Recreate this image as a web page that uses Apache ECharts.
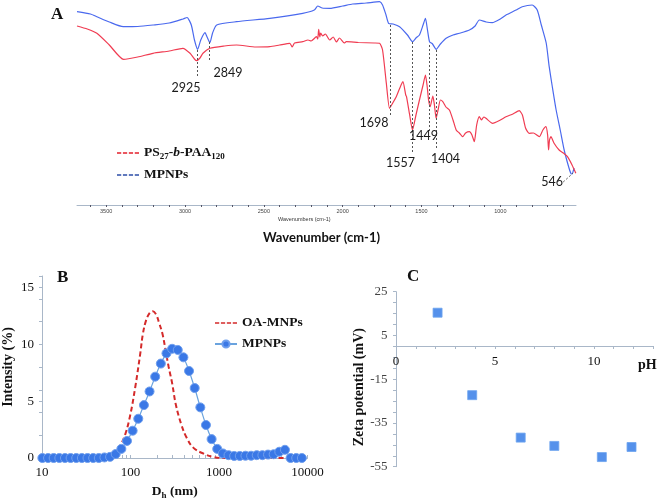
<!DOCTYPE html>
<html><head><meta charset="utf-8">
<script src="https://cdn.jsdelivr.net/npm/echarts@6/dist/echarts.min.js"></script>
<style>html,body{margin:0;padding:0;background:#fff}#c{width:661px;height:501px}</style>
</head><body><div id="c"></div>
<script>
// ---- Panel A: FTIR spectra, [wavenumber cm-1, relative transmittance (a.u.)]
const ftirPolymer = [[3685,179],[3620,176],[3559,171.7],[3480,160],[3390,145.7],[3300,148],[3203,151.7],[3100,154],[3013,156.7],[2968,151.7],[2940,146],[2926,144.3],[2905,147],[2886,151.7],[2842,156.7],[2750,159],[2673,160],[2550,158],[2462,158.3],[2400,160],[2335,161.7],[2320,158],[2305,162],[2253,163.3],[2220,165],[2200,164],[2166,168.3],[2158,166],[2152,175.7],[2145,168],[2140,172],[2127,169],[2110,171],[2082,165],[2060,168],[2040,163],[2020,167],[1990,162],[1977,163.3],[1900,162.5],[1800,162],[1766,161.7],[1747,155],[1723,121.7],[1703,96.7],[1690,100],[1660,108.3],[1640,116],[1618,123.3],[1600,110],[1595,108.3],[1575,90],[1557,75],[1535,90],[1513,105],[1490,120],[1475,130],[1465,120],[1455,105],[1445,98.3],[1428,109],[1418,100],[1407,86.7],[1395,95],[1380,105],[1365,103.3],[1345,98],[1323,95],[1300,85],[1280,75],[1260,72],[1239,68.3],[1220,72],[1196,73.3],[1180,70],[1165,63.3],[1150,80],[1133,88.3],[1120,85],[1105,88],[1091,86.7],[1049,81.7],[1000,85],[964,88.3],[920,91],[880,94.3],[860,90],[840,77],[817,71.7],[790,72],[753,68.3],[730,75],[711,78.3],[700,70],[694,55],[688,65],[679,68.3],[660,62],[627,55],[600,52],[574,48.3],[545,40],[521,31.7]];
const ftirMPNPs = [[3685,193.3],[3600,191],[3559,188.3],[3480,183],[3392,178.3],[3300,178.5],[3203,180],[3100,182],[3013,186],[2987,187.5],[2960,180],[2940,165],[2920,155.7],[2900,165],[2873,172.3],[2860,168],[2842,162.3],[2825,172],[2799,180],[2673,183.3],[2462,186.7],[2253,191.7],[2180,195],[2158,199],[2130,197],[2082,196.7],[2000,199],[1937,201],[1850,202],[1766,203.3],[1747,200],[1725,190],[1709,181.7],[1680,181],[1639,178.3],[1589,170],[1557,163.3],[1535,167],[1513,170],[1490,180],[1475,186.7],[1462,175],[1449,163.3],[1430,161],[1407,155.7],[1380,161],[1344,166.7],[1300,170],[1260,171.7],[1196,175],[1160,179],[1133,185],[1090,183],[1051,182.3],[1000,186],[964,190],[900,195],[861,198.3],[798,200],[766,195],[740,180],[709,162],[690,138.3],[670,118],[646,95],[620,75],[595,55],[570,40],[553,31.7],[546,31],[532,37]];
const peakLabels = ['2925','2849','1698','1557','1449','1404','546'];
const wavenumberTicks = [1000,1500,2000,2500,3000,3500];

// ---- Panel B: DLS size distribution
const dlsSizesMPNPs = [10.1,11.7,13.54,15.69,18.17,21.04,24.36,28.21,32.67,37.84,43.82,50.75,58.77,68.06,78.82,91.28,105.7,122.4,141.8,164.2,190.1,220.2,255,295.3,342,396.1,458.7,531.2,615.1,712.4,825,955.4,1106,1281,1484,1718,1990,2305,2669,3091,3580,4145,4801,5560,6439,7456,8635];
const dlsIntensityMPNPs = [0,0,0,0,0,0,0,0,0,0,0,0.05,0.1,0.35,0.8,1.5,2.4,3.45,4.65,5.85,7.15,8.3,9.2,9.6,9.5,8.85,7.65,6.15,4.45,2.9,1.66,0.8,0.4,0.25,0.18,0.18,0.2,0.2,0.25,0.25,0.3,0.33,0.55,0.72,0,0,0];
const dlsSizesOA = [10,20,40,55,60,67.3,76.7,87.4,99.5,113,129,138,150,165,179,195,210,230,250,270,295,326,375,430,515,670,870,1120,3000,8635];
const dlsIntensityOA = [0,0,0,0,0.05,0.38,1.09,2.1,3.8,6.2,9.2,10.9,12.1,12.75,12.9,12.6,11.9,10.9,9.4,8.0,6.6,4.66,2.95,1.8,0.89,0.38,0.09,0,0,0];
const sizeTicks = [10,100,1000,10000];

// ---- Panel C: zeta potential vs pH
const phValues = [2.1,3.85,6.3,8.0,10.4,11.9];
const zetaValues = [15.4,-22.3,-41.7,-45.5,-50.6,-46];
const phTicks = [0,5,10];
const zetaTicks = [-55,-35,-15,5,25];

const serif = 'Liberation Serif';
const axisGray = '#a9b7c8';
const range = (a,b,s)=>{const r=[];for(let v=a;v<=b+1e-9;v+=s)r.push(+v.toFixed(6));return r;};
const logTicks = [];
[10,100,1000].forEach(d=>{for(let k=1;k<10;k++)logTicks.push(d*k);}); logTicks.push(10000);
const plain = v => String(v);

const dashIcon = 'path://M0 0H5V2H0Z M7 0H12V2H7Z M14 0H19V2H14Z M21 0H26V2H21Z';
const richSerif = {
  t:{fontFamily:serif,fontWeight:'bold',fontSize:13.5,lineHeight:16,color:'#111'},
  i:{fontFamily:serif,fontWeight:'bold',fontStyle:'italic',fontSize:13.5,lineHeight:16,color:'#111'},
  s:{fontFamily:serif,fontWeight:'bold',fontSize:9,lineHeight:7,verticalAlign:'bottom',color:'#111'}
};

const peakCoords = [[2994,117],[2728,132],[1801,82],[1633,42],[1487,69],[1348,46],[671,23]];
const guideLines = [[2925,155,129],[2849,163,143],[1698,180,88],[1557,163,52],[1449,160,72],[1404,155,55]];

const chart = echarts.init(document.getElementById('c'), null, {renderer:'canvas'});
chart.setOption({
  animation:false,
  backgroundColor:'#fff',
  grid:[
    {left:77,right:85,top:0,bottom:296},
    {left:42,right:353.5,top:276,bottom:38.3},
    {left:396,right:7.7,top:291.7,bottom:34.3}
  ],
  xAxis:[
    {gridIndex:0,type:'value',inverse:true,min:520,max:3685,
     axisLine:{lineStyle:{color:axisGray,width:1}},
     axisTick:{customValues:range(600,3600,100),length:2,lineStyle:{color:'#556'}},
     axisLabel:{customValues:wavenumberTicks,formatter:plain,fontSize:5.5,color:'#444',margin:3,fontFamily:'Liberation Sans'},
     splitLine:{show:false}},
    {gridIndex:1,type:'log',logBase:10,min:10,max:10000,
     axisLine:{lineStyle:{color:axisGray}},
     axisTick:{customValues:logTicks,inside:true,length:3,lineStyle:{color:axisGray}},
     axisLabel:{customValues:sizeTicks,formatter:plain,fontFamily:serif,fontSize:13,color:'#111',margin:8},
     splitLine:{show:false},minorSplitLine:{show:false},
     name:'{t|D}{s|h}{t| (nm)}',nameLocation:'middle',nameGap:26,
     nameTextStyle:{rich:richSerif}},
    {gridIndex:2,type:'value',min:0,max:13,position:'bottom',offset:-120.7,
     axisLine:{onZero:false,lineStyle:{color:axisGray}},
     axisTick:{customValues:range(0,13,1),length:3,lineStyle:{color:axisGray}},
     axisLabel:{customValues:phTicks,formatter:plain,fontFamily:serif,fontSize:13,color:'#111',margin:9},
     splitLine:{show:false}}
  ],
  yAxis:[
    {gridIndex:0,type:'value',min:0,max:205,show:false},
    {gridIndex:1,type:'value',min:0,max:16,
     axisLine:{show:true,lineStyle:{color:axisGray}},
     axisTick:{show:true,customValues:[0,2,4,5,6,8,10,12,14,15,16],length:3,lineStyle:{color:axisGray}},
     axisLabel:{customValues:[0,5,10,15],formatter:plain,fontFamily:serif,fontSize:13,color:'#111',margin:8},
     splitLine:{show:false},
     name:'Intensity (%)',nameLocation:'middle',nameGap:27,
     nameTextStyle:{fontFamily:serif,fontWeight:'bold',fontSize:14,color:'#111'}},
    {gridIndex:2,type:'value',min:-55,max:25,
     axisLine:{show:true,onZero:false,lineStyle:{color:axisGray}},
     axisTick:{show:true,customValues:range(-55,25,5),length:3,lineStyle:{color:axisGray}},
     axisLabel:{show:false},
     splitLine:{show:false},
     name:'Zeta potential (mV)',nameLocation:'middle',nameGap:30,nameMoveOverlap:false,
     nameTextStyle:{fontFamily:serif,fontWeight:'bold',fontSize:14,color:'#111',padding:[0,0,0,-16]}}
  ],
  legend:[
    {orient:'vertical',left:112,top:141,itemWidth:22,itemHeight:2,itemGap:7,
     data:[{name:'PS27-b-PAA120',icon:dashIcon,itemStyle:{color:'#e3202c'}},
           {name:'MPNPs (FTIR)',icon:dashIcon,itemStyle:{color:'#2c4ea8'}}],
     formatter:n=>n==='PS27-b-PAA120'?'{t|PS}{s|27}{t|-}{i|b}{t|-PAA}{s|120}':'{t|MPNPs}',
     textStyle:{rich:richSerif}},
    {orient:'vertical',left:209,top:311,itemWidth:22,itemHeight:9,itemGap:7,
     data:[{name:'OA-MNPs',icon:dashIcon,itemHeight:2,itemStyle:{color:'#d42a2a'}},
           {name:'MPNPs (DLS)'}],
     formatter:n=>n==='OA-MNPs'?'{t|OA-MNPs}':'{t|MPNPs}',
     textStyle:{rich:richSerif}}
  ],
  series:[
    {name:'MPNPs (FTIR)',type:'line',xAxisIndex:0,yAxisIndex:0,data:ftirMPNPs,
     showSymbol:false,smooth:0.2,lineStyle:{color:'#4a69ee',width:1.2},itemStyle:{color:'#4a69ee'}},
    {name:'PS27-b-PAA120',type:'line',xAxisIndex:0,yAxisIndex:0,data:ftirPolymer,
     showSymbol:false,smooth:0.2,lineStyle:{color:'#f03c52',width:1.2},itemStyle:{color:'#f03c52'},
     markLine:{silent:true,symbol:['none','none'],label:{show:false},
       lineStyle:{color:'#555',type:[2,2],width:1},
       data:guideLines.map(g=>[{coord:[g[0],g[1]]},{coord:[g[0],g[2]]}])
         .concat([[{coord:[601,23]},{coord:[538,32]}]])},
     markPoint:{silent:true,symbol:'circle',symbolSize:0,
       label:{show:true,position:'inside',formatter:'{b}',fontFamily:'Lato',fontSize:12.5,color:'#1a1a1a'},
       data:peakLabels.map((p,i)=>({name:p,coord:peakCoords[i]}))}},
    {name:'OA-MNPs',type:'line',xAxisIndex:1,yAxisIndex:1,
     data:dlsSizesOA.map((d,i)=>[d,dlsIntensityOA[i]]),
     showSymbol:false,smooth:0.4,lineStyle:{color:'#d42a2a',width:2,type:[5,3]},itemStyle:{color:'#d42a2a'},z:3},
    {name:'MPNPs (DLS)',type:'line',xAxisIndex:1,yAxisIndex:1,
     data:dlsSizesMPNPs.map((d,i)=>[d,dlsIntensityMPNPs[i]]),
     symbol:'circle',symbolSize:9,smooth:0.3,
     lineStyle:{color:'#6aa3de',width:1.2},
     itemStyle:{color:'#3a78e6',borderColor:'#6f9fee',borderWidth:1},z:4},
    {name:'Zeta',type:'scatter',xAxisIndex:2,yAxisIndex:2,
     data:phValues.map((p,i)=>[p,zetaValues[i]]),
     symbol:'rect',symbolSize:9,
     itemStyle:{color:'#2a76e6',borderColor:'#6ea5ef',borderWidth:1}},
    {name:'Zeta axis labels',type:'scatter',xAxisIndex:2,yAxisIndex:2,silent:true,
     zlevel:3,z:100,
     data:zetaTicks.map(v=>[0,v]),symbol:'circle',symbolSize:1,clip:false,
     itemStyle:{color:'rgba(0,0,0,0)'},
     labelLayout:{hideOverlap:false},
     label:{show:true,position:'left',distance:8,formatter:p=>String(p.value[1]),
       fontFamily:serif,fontSize:13,color:'#111'}}
  ],
  graphic:[
    {type:'text',left:51,top:6,style:{text:'A',font:'bold 17px "Liberation Serif"',fill:'#111'}},
    {type:'text',left:57,top:269,style:{text:'B',font:'bold 17px "Liberation Serif"',fill:'#111'}},
    {type:'text',left:407,top:268,style:{text:'C',font:'bold 17px "Liberation Serif"',fill:'#111'}},
    {type:'text',left:638,top:358,style:{text:'pH',font:'bold 14px "Liberation Serif"',fill:'#111'}},
    {type:'text',left:263,top:231,style:{text:'Wavenumber (cm-1)',font:'bold 13px Lato',fill:'#111'}},
    {type:'text',left:278,top:216,style:{text:'Wavenumbers (cm-1)',font:'5.5px "Liberation Sans"',fill:'#333'}}
  ]
});
</script></body></html>
